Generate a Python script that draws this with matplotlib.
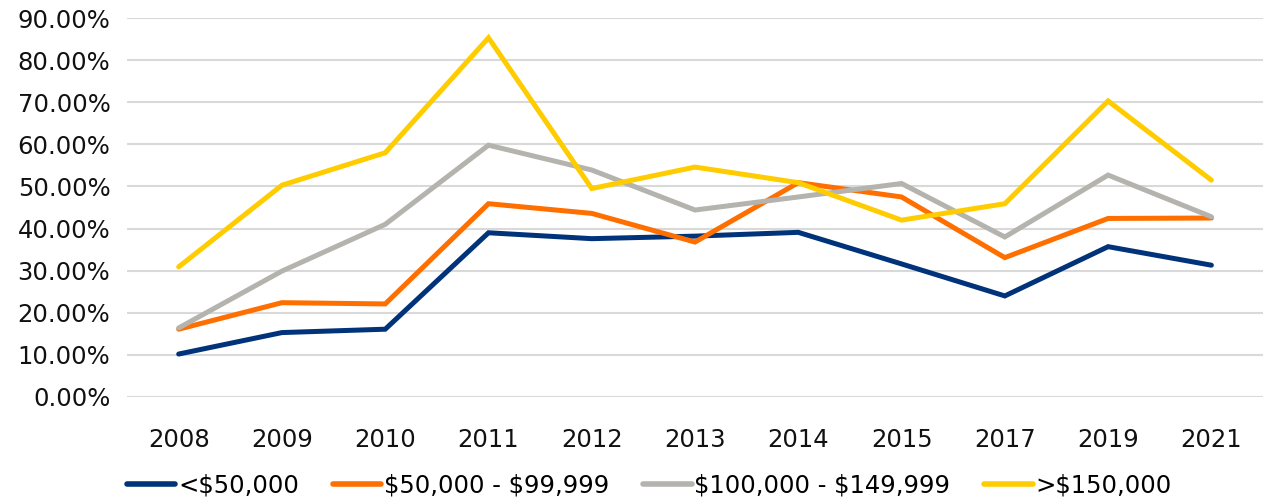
import matplotlib
matplotlib.use("Agg")
import matplotlib.pyplot as plt
from matplotlib.ticker import FuncFormatter

years = ["2008", "2009", "2010", "2011", "2012", "2013", "2014", "2015", "2017", "2019", "2021"]
under_50k = [10.2, 15.3, 16.1, 39.0, 37.6, 38.2, 39.1, 31.6, 24.0, 35.7, 31.3]
k50_99k = [16.1, 22.4, 22.1, 45.9, 43.6, 36.8, 50.9, 47.5, 33.1, 42.4, 42.5]
k100_149k = [16.4, 29.9, 41.0, 59.8, 53.9, 44.4, 47.5, 50.7, 38.0, 52.7, 42.8]
over_150k = [30.9, 50.3, 58.0, 85.3, 49.5, 54.6, 50.9, 42.0, 45.9, 70.3, 51.5]

labels = ["<\\$50,000", "\\$50,000 - \\$99,999", "\\$100,000 - \\$149,999", ">\\$150,000"]
colors = ["#00337A", "#FF6F00", "#B4B3AE", "#FFCC00"]
series = [under_50k, k50_99k, k100_149k, over_150k]

plt.rcParams['font.family'] = ['DejaVu Sans']

fig = plt.figure(figsize=(12.63, 5.0), dpi=100)
ax = fig.add_axes([0.1006, 0.206, 0.8994, 0.758])

x = list(range(len(years)))
for vals, c, lab in zip(series, colors, labels):
    ax.plot(x, vals, color=c, lw=3.6, label=lab, solid_capstyle='round', solid_joinstyle='miter')

ax.set_xlim(-0.5, len(years) - 0.5)
ax.set_ylim(0, 90)
ax.set_yticks(range(0, 91, 10))
ax.yaxis.set_major_formatter(FuncFormatter(lambda v, p: f"{v:.2f}%"))
ax.set_xticks(x)
ax.set_xticklabels(years)
ax.grid(axis='y', color='#D9D9D9', lw=1.5)
ax.set_axisbelow(True)
for s in ax.spines.values():
    s.set_visible(False)
ax.tick_params(axis='both', length=0, labelsize=17.5, colors='#111111')
ax.tick_params(axis='y', pad=12)
ax.tick_params(axis='x', pad=22)

leg = fig.legend(loc='center', bbox_to_anchor=(0.514, 0.028), ncol=4, frameon=False,
                 fontsize=17.5, handlelength=2.0, handletextpad=0.1, columnspacing=1.4)
for h in leg.get_lines():
    h.set_linewidth(4)
    h.set_solid_capstyle('round')

fig.savefig("out.png", dpi=100)
